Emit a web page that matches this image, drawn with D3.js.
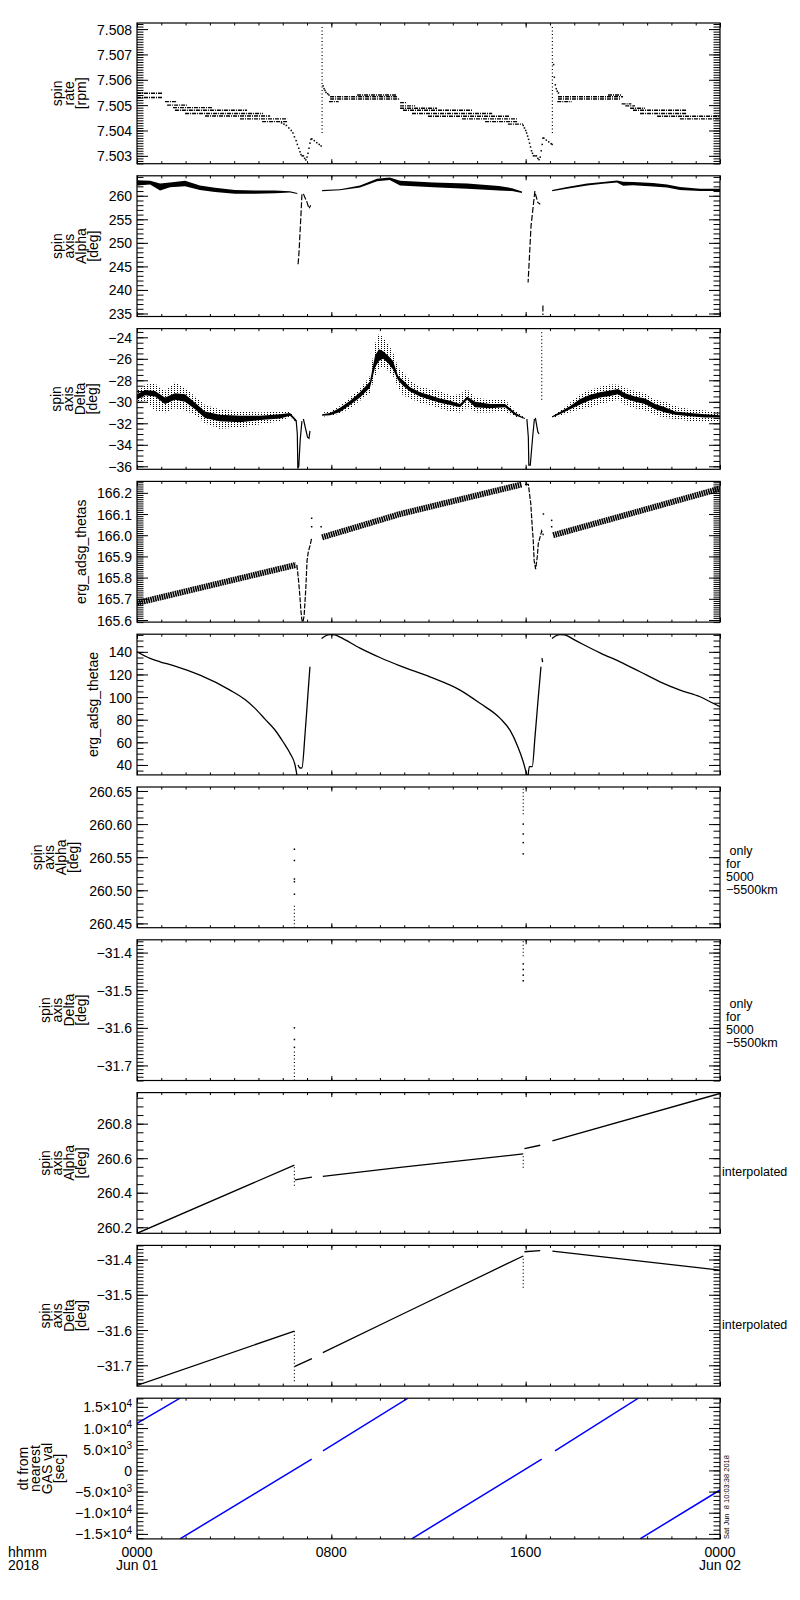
<!DOCTYPE html>
<html>
<head>
<meta charset="utf-8">
<script src="https://cdn.jsdelivr.net/npm/d3@7/dist/d3.min.js"></script>
<style>
  body { margin: 0; background: #fff; }
  svg { display: block; font-family: "Liberation Sans", Arial, sans-serif; }
</style>
</head>
<body>
<svg id="chart" width="800" height="1600"></svg>
<script>
// time is in hours from 2018-06-01 00:00
var hourMajor = [0, 8, 16, 24]
var hourLabels = ["0000", "0800", "1600", "0000"]
var dayLabels = ["Jun 01", "", "", "Jun 02"]

var panelTitles = [
  ["spin", "rate", "[rpm]"],
  ["spin", "axis", "Alpha", "[deg]"],
  ["spin", "axis", "Delta", "[deg]"],
  ["erg_adsg_thetas"],
  ["erg_adsg_thetae"],
  ["spin", "axis", "Alpha", "[deg]"],
  ["spin", "axis", "Delta", "[deg]"],
  ["spin", "axis", "Alpha", "[deg]"],
  ["spin", "axis", "Delta", "[deg]"],
  ["dt from", "nearest", "GAS val", "[sec]"]
]
var panelNotes = [[], [], [], [], [], [" only", "for", "5000", "\u22125500km"], [" only", "for", "5000", "\u22125500km"], ["interpolated"], ["interpolated"], []]

var yLow = [7.50269, 234.36, -36.28, 165.59, 31.2, 260.4435, -31.74, 260.165, -31.759, -16180]
var yHigh = [7.50824, 264.24, -23.19, 166.254, 155.6, 260.656, -31.366, 260.98, -31.36, 17050]
var yMajorFirst = [7.503, 235, -36, 165.6, 40, 260.45, -31.7, 260.2, -31.7, -15000]
var yMajorStep = [0.001, 5, 2, 0.1, 20, 0.05, 0.1, 0.2, 0.1, 5000]
var yMinorStep = [0.0001, 1, 0.5, 0.01, 5, 0.01, 0.01, 0.05, 0.01, 1000]
var yDecimals = [3, 0, 0, 1, 0, 2, 1, 1, 1, -1]

// panel 1: spin rate, quantized levels [start, end, value]
var rateLevelStart = [0, 0, 1.15, 1.24, 1.48, 1.56, 1.98, 2.80, 4.24, 5.15, 7.95, 7.95, 9.06, 7.90, 10.83, 10.83, 10.83, 10.95, 11.32, 11.98, 13.38, 14.33, 15.27, 17.33, 17.33, 19.39, 17.30, 19.95, 20.10, 20.30, 20.42, 20.71, 21.41, 22.35]
var rateLevelEnd = [1.07, 1.07, 1.65, 2.06, 3.09, 4.53, 5.19, 5.48, 6.18, 6.18, 10.70, 10.83, 10.70, 8.30, 11.12, 11.45, 12.35, 13.79, 14.62, 15.36, 15.64, 15.69, 15.89, 20.01, 19.90, 19.95, 17.90, 20.35, 20.50, 20.91, 22.64, 22.64, 24, 24]
var rateLevelVal = [7.50547, 7.50530, 7.50514, 7.50500, 7.50490, 7.50480, 7.50467, 7.50457, 7.50446, 7.50435, 7.50533, 7.50524, 7.50540, 7.50514, 7.50510, 7.50497, 7.50488, 7.50480, 7.50467, 7.50456, 7.50446, 7.50435, 7.50425, 7.50533, 7.50524, 7.50540, 7.50514, 7.50505, 7.50497, 7.50488, 7.50480, 7.50467, 7.50456, 7.50446]
var rateDotT = [5.95, 6.05, 6.15, 6.25, 6.35, 6.42, 6.48, 6.55, 6.60, 6.66, 6.71, 6.75, 6.80, 6.85, 6.90, 6.95, 7.00, 7.04, 7.08, 7.12, 7.16, 7.20, 7.30, 7.40, 7.50, 7.58, 7.66, 7.70, 7.74, 7.78, 7.85, 7.90,
  15.90, 15.95, 16.00, 16.04, 16.08, 16.12, 16.16, 16.20, 16.24, 16.28, 16.32, 16.38, 16.44, 16.50, 16.55, 16.60, 16.64, 16.68, 16.71, 16.75, 16.85, 16.95, 17.05, 17.09, 17.15, 17.18, 17.22, 17.26, 17.30, 17.35]
var rateDotV = [7.50430, 7.50425, 7.50420, 7.50410, 7.50400, 7.50390, 7.50375, 7.50360, 7.50345, 7.50330, 7.50316, 7.50305, 7.50300, 7.50300, 7.50290, 7.50284, 7.50295, 7.50310, 7.50330, 7.50350, 7.50365, 7.50367, 7.50360, 7.50352, 7.50345, 7.50339, 7.50576, 7.50565, 7.50558, 7.50550, 7.50545, 7.50540,
  7.50420, 7.50410, 7.50400, 7.50390, 7.50378, 7.50365, 7.50350, 7.50335, 7.50320, 7.50310, 7.50300, 7.50300, 7.50300, 7.50290, 7.50285, 7.50295, 7.50320, 7.50345, 7.50370, 7.50370, 7.50362, 7.50355, 7.50348, 7.50345, 7.50660, 7.50610, 7.50580, 7.50565, 7.50555, 7.50548]
var rateRunT = [7.62, 17.10]
var rateRunLo = [7.5039, 7.5039]
var rateRunHi = [7.50808, 7.50808]

// panel 2: spin axis alpha band
var alphaT = [0, 0.54, 0.95, 1.36, 1.98, 2.59, 3.21, 4.03, 4.86, 5.68, 6.30, 6.60, 7.0, 7.62, 8.36, 9.18, 9.88, 10.40, 10.83, 12.2, 13.6, 14.9, 15.44, 15.85, 16.5, 17.09, 17.70, 18.53, 19.18, 19.76, 20.01, 20.42, 21.24, 21.82, 22.35, 23.18, 24]
var alphaHi = [263.3, 263.2, 262.6, 262.8, 263.2, 262.2, 261.7, 261.2, 261.1, 261.1, 260.95, 260.6, null, 261.2, 261.4, 262.2, 263.6, 263.9, 263.2, 262.8, 262.6, 262.1, 261.6, 260.9, null, 261.2, 261.85, 262.6, 262.9, 263.25, 263.0, 262.9, 262.7, 262.4, 261.85, 261.5, 261.5]
var alphaLo = [262.2, 262.4, 261.1, 261.8, 262.0, 261.2, 260.8, 260.45, 260.45, 260.55, 260.7, 260.35, null, 260.95, 261.15, 261.75, 263.1, 263.35, 262.2, 261.8, 261.5, 261.1, 261.0, 260.6, null, 260.95, 261.5, 262.2, 262.55, 262.8, 262.15, 262.25, 261.95, 261.75, 261.25, 261.0, 261.0]
var alphaLineT = [6.79, 6.75, 6.71, 6.67, 6.63, 6.7, 6.85, 7.0, 7.08, 7.15, 7.2, 16.38, 16.30, 16.22, 16.16, 16.10, 16.2, 16.40, 16.50, 16.60, 16.65, 16.71, 16.71]
var alphaLineV = [260.3, 256, 252, 248, 245.4, null, 260.4, 258.6, 257.3, 258.0, null, 261.0, 257.3, 253.5, 247.5, 241.6, null, 260.4, 258.6, 258.2, null, 236.7, 234.7]

// panel 3: spin axis delta, core band and scatter envelope
var deltaT = [0, 0.33, 0.74, 1.15, 1.56, 1.98, 2.39, 2.80, 3.40, 4.24, 5.07, 5.89, 6.30, 6.55, 7.0,
  7.62, 7.95, 8.36, 8.77, 9.18, 9.59, 9.80, 9.96, 10.13, 10.33, 10.54, 10.75, 10.95, 11.24, 11.65, 12.06, 12.47, 12.89, 13.30, 13.59, 13.92, 14.53, 15.15, 15.56, 15.85, 15.97, 16.5,
  17.09, 17.41, 17.83, 18.24, 18.65, 19.06, 19.47, 19.80, 20.09, 20.50, 20.91, 21.33, 21.74, 22.15, 22.77, 23.38, 24]
var deltaLo = [-29.8, -29.4, -29.5, -30.2, -29.8, -30.0, -30.7, -31.5, -31.8, -31.9, -31.7, -31.55, -31.3, -31.85, null,
  -31.3, -31.25, -30.95, -30.3, -29.6, -28.7, -26.8, -26.2, -26.0, -26.4, -27.0, -28.0, -28.5, -29.05, -29.5, -29.8, -30.1, -30.3, -30.5, -29.8, -30.5, -30.6, -30.5, -31.25, -31.5, -31.6, null,
  -31.45, -31.15, -30.7, -30.25, -29.85, -29.6, -29.45, -29.3, -29.7, -30.0, -30.2, -30.7, -31.0, -31.2, -31.35, -31.45, -31.45]
var deltaHi = [-29.3, -28.9, -29.0, -29.6, -29.2, -29.3, -30.1, -30.9, -31.2, -31.3, -31.3, -31.15, -31.05, -31.65, null,
  -31.15, -31.05, -30.55, -29.9, -29.1, -28.1, -25.7, -25.1, -25.3, -25.7, -26.2, -27.6, -28.0, -28.65, -29.1, -29.4, -29.7, -29.9, -30.2, -29.5, -30.0, -30.2, -30.2, -31.0, -31.4, -31.5, null,
  -31.35, -30.95, -30.4, -29.75, -29.35, -29.1, -28.95, -28.8, -29.2, -29.5, -29.7, -30.2, -30.5, -30.9, -31.05, -31.15, -31.25]
var deltaSpreadLo = [-30.2, -29.9, -30.8, -31.0, -30.6, -30.8, -31.2, -32.0, -32.5, -32.4, -32.1, -31.8, -31.4, -31.9, null,
  -31.4, -31.3, -31.1, -30.6, -29.9, -29.2, -27.6, -26.9, -26.7, -27.1, -27.6, -28.7, -29.4, -29.7, -30.1, -30.3, -30.6, -30.9, -31.0, -30.5, -31.0, -31.0, -30.9, -31.4, -31.5, -31.6, null,
  -31.5, -31.3, -31.0, -30.7, -30.5, -30.2, -30.0, -29.8, -30.3, -30.6, -30.8, -31.2, -31.5, -31.6, -31.8, -31.8, -31.8]
var deltaSpreadHi = [-28.9, -28.4, -28.3, -29.0, -28.2, -28.7, -29.5, -30.3, -30.7, -30.9, -31.0, -30.9, -30.9, -31.6, null,
  -31.0, -30.9, -30.4, -29.6, -28.8, -27.6, -24.6, -23.7, -24.0, -24.6, -25.4, -26.8, -27.2, -28.0, -28.6, -28.8, -29.0, -29.4, -29.3, -28.8, -29.6, -29.8, -29.8, -30.8, -31.3, -31.5, null,
  -31.3, -30.8, -30.1, -29.3, -28.9, -28.6, -28.4, -28.4, -28.7, -29.0, -29.2, -29.8, -30.0, -30.4, -30.7, -30.8, -31.0]
var deltaLineT = [6.55, 6.60, 6.62, 6.66, 6.72, 6.79, 6.8, 6.85, 6.95, 7.02, 7.08, 7.12, 7.5, 16.05, 16.11, 16.13, 16.19, 16.29, 16.36, 16.38, 16.40, 16.50, 16.55]
var deltaLineV = [-31.7, -33.0, -36.2, -36.0, -33.5, -31.8, null, -31.6, -32.6, -33.3, -33.4, -32.7, null, -31.6, -33.3, -35.9, -35.9, -33.2, -31.6, null, -31.5, -32.8, -33.0]
var deltaRunT = [16.66]
var deltaRunLo = [-29.8]
var deltaRunHi = [-23.4]

// panel 4: erg_adsg_thetas
var thetasT = [0, 2, 4, 6, 6.55, 7.0, 7.62, 10.83, 15.85, 16.5, 17.13, 24]
var thetasV = [165.68, 165.735, 165.79, 165.845, 165.86, null, 165.99, 166.10, 166.24, null, 166.0, 166.22]
var thetasDipT = [6.58, 6.64, 6.70, 6.75, 6.79, 6.83, 6.88, 6.95, 7.0, 7.05, 7.12, 7.2, 7.4, 15.97, 16.11, 16.21, 16.27, 16.31, 16.35, 16.41, 16.48, 16.52, 16.59, 16.66, 16.73]
var thetasDipV = [165.86, 165.80, 165.72, 165.64, 165.60, 165.59, 165.62, 165.75, 165.88, 165.92, 165.95, 165.99, null, 166.24, 166.24, 166.15, 166.04, 165.98, 165.88, 165.84, 165.90, 165.96, 165.99, 166.02, 166.0]
var thetasDotT = [7.19, 7.19, 7.58, 16.73, 17.07, 17.07]
var thetasDotV = [166.08, 166.04, 166.04, 166.10, 166.07, 166.04]

// panel 5: erg_adsg_thetae
var thetaeT = [0, 0.535, 0.947, 1.564, 2.594, 3.829, 4.446, 4.858, 5.270, 5.681, 6.011, 6.299, 6.505, 6.60, 6.61, 6.63, 6.71, 6.79, 6.92, 7.04, 7.12, 7.3,
  7.60, 7.75, 7.95, 8.15, 8.36, 9.18, 10.0, 10.83, 12.06, 13.30, 14.12, 14.95, 15.36, 15.69, 15.89, 16.06, 16.08, 16.10, 16.15, 16.27, 16.385, 16.51, 16.63, 16.65, 16.67, 16.70, 16.8,
  17.085, 17.25, 17.41, 17.6, 18.03, 19.06, 19.885, 20.71, 21.53, 22.355, 23.18, 23.59, 24]
var thetaeV = [140, 134.2, 131.2, 127.4, 119.4, 106.2, 97.8, 90.0, 80.5, 70.9, 60.5, 50.3, 40, 29, null, 40, 37.3, 37.5, 68, 103.5, 126.8, null,
  151.8, 154.0, 155.3, 155.0, 153.0, 143.3, 135.0, 127.6, 117.9, 106.2, 94.5, 81.2, 70.5, 55.5, 43.5, 30, null, 30, 38.5, 38.5, 65, 97.4, 126.8, null, 134.4, 131, null,
  151.8, 154.2, 155.3, 155.0, 150.3, 139.1, 131.2, 122.4, 113.5, 106.2, 100.3, 95.9, 91.5]

// panels 6, 7: only for 5000-5500 km
var alpha5kRunT = [6.48, 15.9]
var alpha5kRunLo = [260.4435, 260.615]
var alpha5kRunHi = [260.478, 260.656]
var alpha5kDotT = [6.48, 6.48, 6.48, 6.48, 6.48, 15.9, 15.9, 15.9, 15.9]
var alpha5kDotV = [260.562, 260.545, 260.517, 260.513, 260.494, 260.60, 260.585, 260.572, 260.555]
var delta5kRunT = [6.48, 15.9]
var delta5kRunLo = [-31.74, -31.41]
var delta5kRunHi = [-31.66, -31.366]
var delta5kDotT = [6.48, 6.48, 6.48, 15.9, 15.9, 15.9, 15.9]
var delta5kDotV = [-31.600, -31.631, -31.652, -31.43, -31.445, -31.46, -31.475]

// panels 8, 9: interpolated
var alphaIT = [0, 6.48, 6.49, 6.5, 7.2, 7.4, 7.65, 10.83, 15.9, 15.92, 15.95, 16.6, 16.8, 17.1, 24]
var alphaIV = [260.165, 260.56, null, 260.475, 260.49, null, 260.495, 260.547, 260.625, null, 260.655, 260.675, null, 260.70, 260.975]
var alphaIRunT = [6.48, 15.9]
var alphaIRunLo = [260.44, 260.545]
var alphaIRunHi = [260.56, 260.625]
var deltaIT = [0, 6.48, 6.49, 6.5, 7.2, 7.4, 7.65, 10.83, 15.9, 15.92, 15.95, 16.6, 16.8, 17.1, 24]
var deltaIV = [-31.757, -31.603, null, -31.703, -31.681, null, -31.664, -31.558, -31.39, null, -31.378, -31.375, null, -31.376, -31.43]
var deltaIRunT = [6.48, 15.9]
var deltaIRunLo = [-31.745, -31.48]
var deltaIRunHi = [-31.603, -31.39]

// panel 10: dt from nearest GAS value [sec]
var dtT = [0, 1.77, 1.771, 1.77, 7.192, 7.4, 7.657, 11.157, 11.2, 11.309, 16.661, 16.9, 17.209, 20.638, 20.67, 20.708, 24]
var dtV = [11088, 17050, null, -16178, 2674, null, 4630, 17050, null, -16178, 2674, null, 4630, 17050, null, -16178, -4630]

var stamp = "Sat Jun  8 10:03:38 2018"

// ---------------------------------------------------------------
var svg = d3.select("#chart")
var plotLeft = 137, plotRight = 720
var firstTop = 23, panelStep = 152.8, panelH = 140.7

var x = d3.scaleLinear().domain([0, 24]).range([plotLeft, plotRight])
var defs = svg.append("defs")
defs.append("pattern").attr("id", "speck")
    .attr("width", 3).attr("height", 2).attr("patternUnits", "userSpaceOnUse")
  .append("rect").attr("width", 1).attr("height", 1).attr("fill", "#000")

var yScales = []
var layers = []

function rows(n) { return d3.range(n) }

panelTitles.forEach(function(title, i) {
  var top = firstTop + i * panelStep
  var y = d3.scaleLinear().domain([yLow[i], yHigh[i]]).range([top + panelH, top])
  yScales.push(y)

  defs.append("clipPath").attr("id", "clip" + i)
    .append("rect").attr("x", plotLeft).attr("y", top).attr("width", plotRight - plotLeft).attr("height", panelH)
  layers.push(svg.append("g").attr("clip-path", "url(#clip" + i + ")"))

  var dec = yDecimals[i]
  var major = d3.range(yMajorFirst[i], yHigh[i] + 1e-9, yMajorStep[i]).map(function(v) { return +v.toFixed(6) })
  var minor = d3.range(Math.ceil(yLow[i] / yMinorStep[i] - 1e-6) * yMinorStep[i], yHigh[i], yMinorStep[i]).map(function(v) { return +v.toFixed(6) })
  var fmt = dec >= 0 ? d3.format("." + dec + "f") : function(d) { return d }

  // left axis
  var leftG = svg.append("g").attr("transform", "translate(" + plotLeft + ",0)")
  leftG.append("g").call(d3.axisLeft(y).tickValues(minor).tickSize(-6.5).tickFormat(""))
  var labG = leftG.append("g").call(d3.axisLeft(y).tickValues(major).tickSize(-11).tickPadding(5).tickFormat(fmt))
  leftG.selectAll(".domain").remove()
  leftG.selectAll("line").attr("stroke", "#000")
  labG.selectAll("text").attr("font-family", "Liberation Sans, Arial, sans-serif")
    .attr("font-size", "14px").attr("fill", "#000").attr("dy", "0.36em")

  if (i === 9) {
    labG.selectAll(".tick text").each(function(d) {
      if (d === 0) return
      var e = Math.floor(Math.log10(Math.abs(d)))
      var m = (d / Math.pow(10, e)).toFixed(1).replace("-", "\u2212")
      var t = d3.select(this).text(null)
      t.append("tspan").text(m + "\u00d710")
      t.append("tspan").attr("dy", "-0.55em").attr("font-size", "10px").text(e)
    })
  }

  // right axis, no labels
  var rightG = svg.append("g").attr("transform", "translate(" + plotRight + ",0)")
  rightG.append("g").call(d3.axisRight(y).tickValues(minor).tickSize(-6.5).tickFormat(""))
  rightG.append("g").call(d3.axisRight(y).tickValues(major).tickSize(-11).tickFormat(""))
  rightG.selectAll(".domain").remove()
  rightG.selectAll("line").attr("stroke", "#000")

  // time ticks, top and bottom
  var hourMinor = d3.range(0, 25)
  var topG = svg.append("g").attr("transform", "translate(0," + top + ")")
  topG.append("g").call(d3.axisTop(x).tickValues(hourMinor).tickSize(-2.5).tickFormat(""))
  topG.append("g").call(d3.axisTop(x).tickValues(hourMajor).tickSize(-4.5).tickFormat(""))
  var botG = svg.append("g").attr("transform", "translate(0," + (top + panelH) + ")")
  botG.append("g").call(d3.axisBottom(x).tickValues(hourMinor).tickSize(-2.5).tickFormat(""))
  botG.append("g").call(d3.axisBottom(x).tickValues(hourMajor).tickSize(-4.5).tickFormat(""))
  topG.selectAll(".domain").remove()
  botG.selectAll(".domain").remove()
  topG.selectAll("line").attr("stroke", "#000")
  botG.selectAll("line").attr("stroke", "#000")

  // frame
  svg.append("rect").attr("x", plotLeft).attr("y", top)
    .attr("width", plotRight - plotLeft).attr("height", panelH)
    .attr("fill", "none").attr("stroke", "#000").attr("stroke-width", 1.2)

  // y title, lines stacked left to right
  var left = plotLeft + labG.node().getBBox().x
  var cy = top + panelH / 2
  title.forEach(function(s, k) {
    svg.append("text")
      .attr("transform", "translate(" + (left - 11 - (title.length - 1 - k) * 12) + "," + cy + ") rotate(-90)")
      .attr("text-anchor", "middle")
      .attr("font-size", "14px")
      .text(s)
  })

  // note on the right
  var notes = panelNotes[i]
  notes.forEach(function(s, k) {
    svg.append("text")
      .attr("x", notes.length > 1 ? 726 : 722)
      .attr("y", cy + (notes.length > 1 ? -2 : 13) + k * 13)
      .attr("font-size", "12.5px")
      .style("white-space", "pre")
      .text(s)
  })
})

// ---------------------------------------------------------------
function drawLine(i, T, V, width, color, dash, curve) {
  var y = yScales[i]
  var line = d3.line()
    .defined(function(k) { return V[k] != null })
    .x(function(k) { return x(T[k]) })
    .y(function(k) { return y(V[k]) })
  if (curve) line.curve(curve)
  layers[i].append("path").attr("d", line(rows(T.length)))
    .attr("fill", "none").attr("stroke", color).attr("stroke-width", width)
    .attr("stroke-dasharray", dash || null)
}
function drawBand(i, T, Lo, Hi, fill) {
  var y = yScales[i]
  var area = d3.area()
    .defined(function(k) { return Lo[k] != null })
    .x(function(k) { return x(T[k]) })
    .y0(function(k) { return y(Lo[k]) })
    .y1(function(k) { return y(Hi[k]) })
  layers[i].append("path").attr("d", area(rows(T.length)))
    .attr("fill", fill).attr("stroke", "none")
}
function drawDots(i, T, V) {
  var y = yScales[i]
  layers[i].append("g").selectAll("rect").data(rows(T.length)).join("rect")
    .attr("x", function(k) { return x(T[k]) - 0.75 })
    .attr("y", function(k) { return y(V[k]) - 0.75 })
    .attr("width", 1.5).attr("height", 1.5).attr("fill", "#000")
}
function drawRuns(i, T, Lo, Hi) {
  var y = yScales[i]
  layers[i].append("g").selectAll("line").data(rows(T.length)).join("line")
    .attr("x1", function(k) { return x(T[k]) }).attr("x2", function(k) { return x(T[k]) })
    .attr("y1", function(k) { return y(Lo[k]) }).attr("y2", function(k) { return y(Hi[k]) })
    .attr("stroke", "#000").attr("stroke-width", 1.2).attr("stroke-dasharray", "1,2.5")
}
function drawLevels(i, T0, T1, V) {
  var y = yScales[i]
  layers[i].append("g").selectAll("line").data(rows(V.length)).join("line")
    .attr("x1", function(k) { return x(T0[k]) }).attr("x2", function(k) { return x(T1[k]) })
    .attr("y1", function(k) { return y(V[k]) }).attr("y2", function(k) { return y(V[k]) })
    .attr("stroke", "#000").attr("stroke-width", 1.4).attr("stroke-dasharray", "4,1,1,1")
}

drawLevels(0, rateLevelStart, rateLevelEnd, rateLevelVal)
drawDots(0, rateDotT, rateDotV)
drawRuns(0, rateRunT, rateRunLo, rateRunHi)

drawBand(1, alphaT, alphaLo, alphaHi, "#000")
drawLine(1, alphaLineT, alphaLineV, 1.2, "#000", "6,2")

drawBand(2, deltaT, deltaSpreadLo, deltaSpreadHi, "url(#speck)")
drawBand(2, deltaT, deltaLo, deltaHi, "#000")
drawLine(2, deltaLineT, deltaLineV, 1.2, "#000")
drawRuns(2, deltaRunT, deltaRunLo, deltaRunHi)

drawLine(3, thetasT, thetasV, 6, "#000", "1.6,0.7")
drawLine(3, thetasDipT, thetasDipV, 1.2, "#000", "5,1.5")
drawDots(3, thetasDotT, thetasDotV)

drawLine(4, thetaeT, thetaeV, 1.3, "#000", null, d3.curveMonotoneX)

drawRuns(5, alpha5kRunT, alpha5kRunLo, alpha5kRunHi)
drawDots(5, alpha5kDotT, alpha5kDotV)
drawRuns(6, delta5kRunT, delta5kRunLo, delta5kRunHi)
drawDots(6, delta5kDotT, delta5kDotV)

drawLine(7, alphaIT, alphaIV, 1.3, "#000")
drawRuns(7, alphaIRunT, alphaIRunLo, alphaIRunHi)
drawLine(8, deltaIT, deltaIV, 1.3, "#000")
drawRuns(8, deltaIRunT, deltaIRunLo, deltaIRunHi)

drawLine(9, dtT, dtV, 1.5, "#0000ff")

// time labels under the last panel
var baseY = firstTop + 9 * panelStep + panelH
hourMajor.forEach(function(h, k) {
  svg.append("text").attr("x", x(h)).attr("y", baseY + 18).attr("text-anchor", "middle")
    .attr("font-size", "14px").text(hourLabels[k])
  if (dayLabels[k]) {
    svg.append("text").attr("x", x(h)).attr("y", baseY + 31).attr("text-anchor", "middle")
      .attr("font-size", "14px").text(dayLabels[k])
  }
})
svg.append("text").attr("x", 8).attr("y", baseY + 18).attr("font-size", "14px").text("hhmm")
svg.append("text").attr("x", 8).attr("y", baseY + 31).attr("font-size", "14px").text("2018")

svg.append("text")
  .attr("transform", "translate(729," + baseY + ") rotate(-90)")
  .attr("font-size", "7.5px")
  .style("white-space", "pre")
  .text(stamp)
</script>
</body>
</html>
